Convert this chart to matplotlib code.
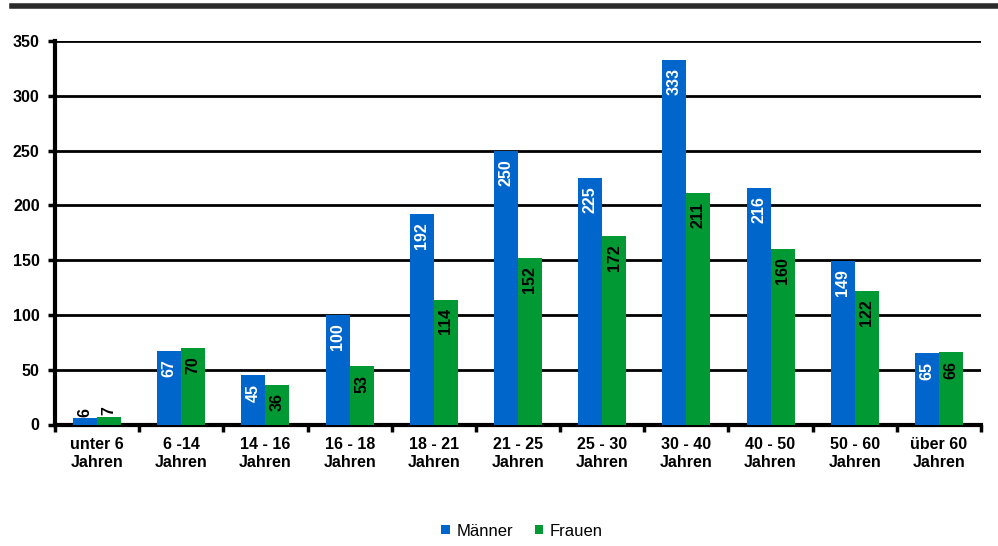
import numpy as np
import matplotlib.pyplot as plt
from matplotlib.lines import Line2D

plt.rcParams['font.family'] = ['Liberation Sans', 'DejaVu Sans']

categories = ['unter 6\nJahren', '6 -14\nJahren', '14 - 16\nJahren', '16 - 18\nJahren',
              '18 - 21\nJahren', '21 - 25\nJahren', '25 - 30\nJahren', '30 - 40\nJahren',
              '40 - 50\nJahren', '50 - 60\nJahren', 'über 60\nJahren']
maenner = [6, 67, 45, 100, 192, 250, 225, 333, 216, 149, 65]
frauen = [7, 70, 36, 53, 114, 152, 172, 211, 160, 122, 66]

blue = '#0066cc'
green = '#009933'

fig = plt.figure(figsize=(9.98, 5.46), dpi=100)
ax = fig.add_axes([55 / 998, 1 - 424.5 / 546, (981 - 55) / 998, (424.5 - 41) / 546])

x = np.arange(len(categories))
w = 0.285
b1 = ax.bar(x - w / 2, maenner, w, color=blue, label='Männer', zorder=3)
b2 = ax.bar(x + w / 2, frauen, w, color=green, label='Frauen', zorder=3)

def label_bars(bars, values, color):
    for bar, v in zip(bars, values):
        cx = bar.get_x() + bar.get_width() / 2
        if v < 20:
            ax.annotate(str(v), (cx, v), xytext=(0, 1), textcoords='offset points',
                        rotation=90, ha='center', va='bottom', fontsize=11.5,
                        fontweight='bold', color='black', zorder=4)
        else:
            ax.annotate(str(v), (cx, v), xytext=(0, -6), textcoords='offset points',
                        rotation=90, ha='center', va='top', fontsize=11.5,
                        fontweight='bold', color=color, zorder=4)

label_bars(b1, maenner, 'white')
label_bars(b2, frauen, 'black')

ax.set_xlim(-0.5, len(categories) - 0.5)
ax.set_ylim(0, 350)
ax.set_yticks(range(0, 351, 50))
ax.yaxis.grid(True, color='black', linewidth=2, zorder=1)
ax.set_axisbelow(True)

ax.set_xticks(x)
ax.set_xticklabels(categories, fontsize=11.5, fontweight='bold', linespacing=1.25)
ax.tick_params(axis='x', length=0, pad=9)
# category separators below the axis
ax.set_xticks(np.arange(len(categories) + 1) - 0.5, minor=True)
ax.tick_params(axis='x', which='minor', length=5, width=2.5, direction='out')
ax.tick_params(axis='y', length=5, width=2.5, direction='out', labelsize=11.5, pad=6)
for t in ax.get_yticklabels():
    t.set_fontweight('bold')

for s in ['top', 'right']:
    ax.spines[s].set_visible(False)
ax.spines['left'].set_linewidth(3)
ax.spines['bottom'].set_linewidth(3)

fig.add_artist(Line2D([12 / 998, 1.0], [1 - 5.5 / 546, 1 - 5.5 / 546],
                      color='#2b2b2b', linewidth=4))

fig.legend(handles=[b1, b2], loc='center', bbox_to_anchor=(0.523, 1 - 531 / 546),
           ncol=2, frameon=False, fontsize=12, handlelength=0.5, handleheight=0.5,
           handletextpad=0.4, columnspacing=1.3)

fig.savefig('out.png', dpi=100)
